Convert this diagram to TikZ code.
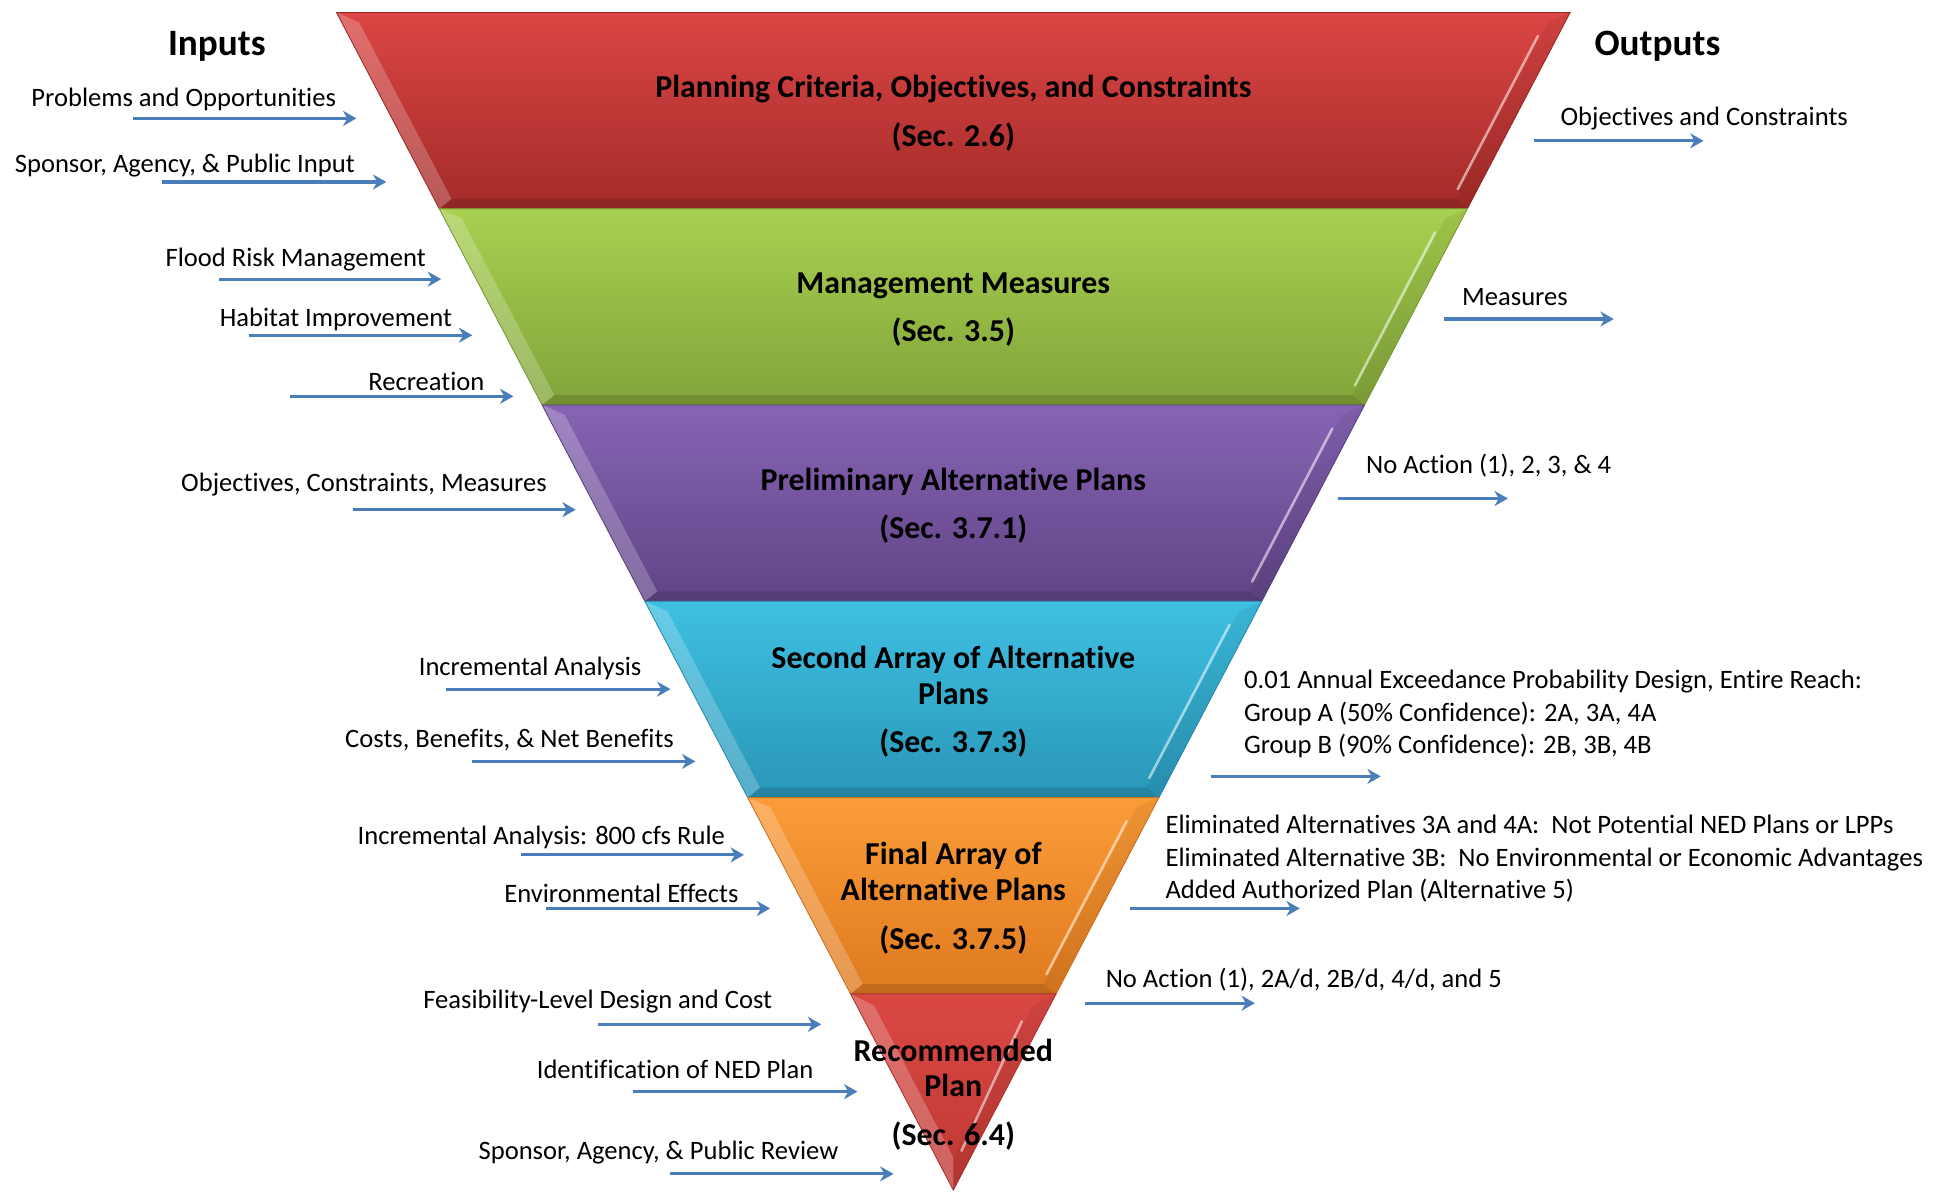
\documentclass[tikz,border=0pt]{standalone}
\usepackage{fontspec}
\setmainfont{Carlito}[Ligatures={NoCommon}]
\usetikzlibrary{calc,arrows.meta}

\tikzset{every picture/.style={line width=0.5pt}}
\tikzset{
  flowarrow/.style={draw={rgb, 255:red, 74; green, 126; blue, 187 }, line width=1.9pt, -{Stealth[length=8pt,width=9pt,inset=2.5pt]}},
  inlabel/.style={anchor=east, inner sep=0pt, yshift=-1.5pt, font=\fontsize{16}{19.5}\selectfont},
  outlabel/.style={anchor=west, inner sep=0pt, yshift=-1.5pt, align=left, font=\fontsize{16}{19.5}\selectfont},
  bandtitle/.style={inner sep=0pt, yshift=-1.5pt, align=center, font=\fontsize{19.2}{21.6}\selectfont\bfseries},
  heading/.style={inner sep=0pt, yshift=-1.5pt, font=\fontsize{22.4}{25}\selectfont\bfseries},
  lbevel/.style={fill=white, fill opacity=0.22},
  bbevel/.style={fill=black, fill opacity=0.13},
  rbevel/.style={fill=black, fill opacity=0.06},
  rshine/.style={draw=white, draw opacity=0.55, line width=1.5pt, line cap=round},
}

\begin{document}
\begin{tikzpicture}[x=0.75pt,y=0.75pt,yscale=-1,xscale=1]
    \useasboundingbox (0,0) rectangle (1568,957);

    % funnel corners
    \coordinate (f0l) at (270,10);      \coordinate (f0r) at (1260,10);
    \coordinate (f1l) at (352.5,167.5); \coordinate (f1r) at (1177.5,167.5);
    \coordinate (f2l) at (435,325);     \coordinate (f2r) at (1095,325);
    \coordinate (f3l) at (517.5,482.5); \coordinate (f3r) at (1012.5,482.5);
    \coordinate (f4l) at (600,640);     \coordinate (f4r) at (930,640);
    \coordinate (f5l) at (682.5,797.5); \coordinate (f5r) at (847.5,797.5);
    \coordinate (tip) at (765,955);

    %Shape: Band 1 (red)
    \shade [top color={rgb, 255:red, 219; green, 70; blue, 68 }, bottom color={rgb, 255:red, 163; green, 43; blue, 41 }] (f0l) -- (f0r) -- (f1r) -- (f1l) -- cycle;
    \fill [lbevel] (f0l) -- ($(f0l)!.05!(f1l)+(14,0)$) -- ($(f0l)!.95!(f1l)+(14,0)$) -- (f1l) -- cycle;
    \fill [bbevel] (f1l) -- ($(f0l)!.95!(f1l)+(14,0)$) -- ($(f0r)!.95!(f1r)+(-14,0)$) -- (f1r) -- cycle;
    \fill [rbevel] (f0r) -- ($(f0r)!.05!(f1r)+(-14,0)$) -- ($(f0r)!.95!(f1r)+(-14,0)$) -- (f1r) -- cycle;
    \draw [rshine] ($(f0r)!.12!(f1r)+(-16,0)$) -- ($(f0r)!.9!(f1r)+(-16,0)$);
    \draw [color={rgb, 255:red, 150; green, 40; blue, 38 }] (f0l) -- (f0r) -- (f1r) -- (f1l) -- cycle;

    %Shape: Band 2 (green)
    \shade [top color={rgb, 255:red, 168; green, 208; blue, 80 }, bottom color={rgb, 255:red, 130; green, 164; blue, 58 }] (f1l) -- (f1r) -- (f2r) -- (f2l) -- cycle;
    \fill [lbevel] (f1l) -- ($(f1l)!.05!(f2l)+(14,0)$) -- ($(f1l)!.95!(f2l)+(14,0)$) -- (f2l) -- cycle;
    \fill [bbevel] (f2l) -- ($(f1l)!.95!(f2l)+(14,0)$) -- ($(f1r)!.95!(f2r)+(-14,0)$) -- (f2r) -- cycle;
    \fill [rbevel] (f1r) -- ($(f1r)!.05!(f2r)+(-14,0)$) -- ($(f1r)!.95!(f2r)+(-14,0)$) -- (f2r) -- cycle;
    \draw [rshine] ($(f1r)!.12!(f2r)+(-16,0)$) -- ($(f1r)!.9!(f2r)+(-16,0)$);
    \draw [color={rgb, 255:red, 118; green, 150; blue, 52 }] (f1l) -- (f1r) -- (f2r) -- (f2l) -- cycle;

    %Shape: Band 3 (purple)
    \shade [top color={rgb, 255:red, 135; green, 100; blue, 180 }, bottom color={rgb, 255:red, 96; green, 68; blue, 134 }] (f2l) -- (f2r) -- (f3r) -- (f3l) -- cycle;
    \fill [lbevel] (f2l) -- ($(f2l)!.05!(f3l)+(14,0)$) -- ($(f2l)!.95!(f3l)+(14,0)$) -- (f3l) -- cycle;
    \fill [bbevel] (f3l) -- ($(f2l)!.95!(f3l)+(14,0)$) -- ($(f2r)!.95!(f3r)+(-14,0)$) -- (f3r) -- cycle;
    \fill [rbevel] (f2r) -- ($(f2r)!.05!(f3r)+(-14,0)$) -- ($(f2r)!.95!(f3r)+(-14,0)$) -- (f3r) -- cycle;
    \draw [rshine] ($(f2r)!.12!(f3r)+(-16,0)$) -- ($(f2r)!.9!(f3r)+(-16,0)$);
    \draw [color={rgb, 255:red, 88; green, 62; blue, 122 }] (f2l) -- (f2r) -- (f3r) -- (f3l) -- cycle;

    %Shape: Band 4 (blue)
    \shade [top color={rgb, 255:red, 62; green, 192; blue, 226 }, bottom color={rgb, 255:red, 42; green, 150; blue, 184 }] (f3l) -- (f3r) -- (f4r) -- (f4l) -- cycle;
    \fill [lbevel] (f3l) -- ($(f3l)!.05!(f4l)+(14,0)$) -- ($(f3l)!.95!(f4l)+(14,0)$) -- (f4l) -- cycle;
    \fill [bbevel] (f4l) -- ($(f3l)!.95!(f4l)+(14,0)$) -- ($(f3r)!.95!(f4r)+(-14,0)$) -- (f4r) -- cycle;
    \fill [rbevel] (f3r) -- ($(f3r)!.05!(f4r)+(-14,0)$) -- ($(f3r)!.95!(f4r)+(-14,0)$) -- (f4r) -- cycle;
    \draw [rshine] ($(f3r)!.12!(f4r)+(-16,0)$) -- ($(f3r)!.9!(f4r)+(-16,0)$);
    \draw [color={rgb, 255:red, 38; green, 136; blue, 168 }] (f3l) -- (f3r) -- (f4r) -- (f4l) -- cycle;

    %Shape: Band 5 (orange)
    \shade [top color={rgb, 255:red, 252; green, 156; blue, 56 }, bottom color={rgb, 255:red, 222; green, 122; blue, 32 }] (f4l) -- (f4r) -- (f5r) -- (f5l) -- cycle;
    \fill [lbevel] (f4l) -- ($(f4l)!.05!(f5l)+(14,0)$) -- ($(f4l)!.95!(f5l)+(14,0)$) -- (f5l) -- cycle;
    \fill [bbevel] (f5l) -- ($(f4l)!.95!(f5l)+(14,0)$) -- ($(f4r)!.95!(f5r)+(-14,0)$) -- (f5r) -- cycle;
    \fill [rbevel] (f4r) -- ($(f4r)!.05!(f5r)+(-14,0)$) -- ($(f4r)!.95!(f5r)+(-14,0)$) -- (f5r) -- cycle;
    \draw [rshine] ($(f4r)!.12!(f5r)+(-16,0)$) -- ($(f4r)!.9!(f5r)+(-16,0)$);
    \draw [color={rgb, 255:red, 200; green, 110; blue, 30 }] (f4l) -- (f4r) -- (f5r) -- (f5l) -- cycle;

    %Shape: Band 6 (red tip)
    \shade [top color={rgb, 255:red, 218; green, 72; blue, 68 }, bottom color={rgb, 255:red, 190; green, 56; blue, 52 }] (f5l) -- (f5r) -- (tip) -- cycle;
    \fill [lbevel] (f5l) -- ($(f5l)!.06!(tip)+(14,0)$) -- ($(tip)+(0,-26)$) -- (tip) -- cycle;
    \fill [rbevel] (f5r) -- ($(f5r)!.06!(tip)+(-14,0)$) -- ($(tip)+(0,-26)$) -- (tip) -- cycle;
    \draw [rshine] ($(f5r)!.14!(tip)+(-16,0)$) -- ($(f5r)!.8!(tip)+(-10,0)$);
    \draw [color={rgb, 255:red, 170; green, 48; blue, 45 }] (f5l) -- (f5r) -- (tip) -- cycle;

    % Band titles
    \draw (765,88.75) node [bandtitle] (b1) {Planning Criteria, Objectives, and Constraints\\[7.6pt](Sec. 2.6)};
    \draw (765,246.25) node [bandtitle] (b2) {Management Measures\\[7.6pt](Sec. 3.5)};
    \draw (765,403.75) node [bandtitle] (b3) {Preliminary Alternative Plans\\[7.6pt](Sec. 3.7.1)};
    \draw (765,561.25) node [bandtitle] (b4) {Second Array of Alternative\\Plans\\[7.6pt](Sec. 3.7.3)};
    \draw (765,718.75) node [bandtitle] (b5) {Final Array of\\Alternative Plans\\[7.6pt](Sec. 3.7.5)};
    \draw (765,876.25) node [bandtitle] (b6) {Recommended\\Plan\\[7.6pt](Sec. 6.4)};

    % Headings
    \draw (174,35) node [heading] (inhead) {Inputs};
    \draw (1330,35) node [heading] (outhead) {Outputs};

    % Inputs
    \coordinate (in1s) at (107,95);  \coordinate (in1e) at (286,95);
    \draw [flowarrow] (in1s) -- (in1e);
    \draw (270,78) node [inlabel] (in1) {Problems and Opportunities};

    \coordinate (in2s) at (130,146); \coordinate (in2e) at (310,146);
    \draw [flowarrow] (in2s) -- (in2e);
    \draw (285,131) node [inlabel] (in2) {Sponsor, Agency, \& Public Input};

    \coordinate (in3s) at (176,224); \coordinate (in3e) at (354,224);
    \draw [flowarrow] (in3s) -- (in3e);
    \draw (342,206) node [inlabel] (in3) {Flood Risk Management};

    \coordinate (in4s) at (200,269); \coordinate (in4e) at (379,269);
    \draw [flowarrow] (in4s) -- (in4e);
    \draw (363,254) node [inlabel] (in4) {Habitat Improvement};

    \coordinate (in5s) at (233,318); \coordinate (in5e) at (412,318);
    \draw [flowarrow] (in5s) -- (in5e);
    \draw (389,304) node [inlabel] (in5) {Recreation};

    \coordinate (in6s) at (283,409); \coordinate (in6e) at (462,409);
    \draw [flowarrow] (in6s) -- (in6e);
    \draw (439,387) node [inlabel] (in6) {Objectives, Constraints, Measures};

    \coordinate (in7s) at (358,553); \coordinate (in7e) at (538,553);
    \draw [flowarrow] (in7s) -- (in7e);
    \draw (515,534) node [inlabel] (in7) {Incremental Analysis};

    \coordinate (in8s) at (379,611); \coordinate (in8e) at (558,611);
    \draw [flowarrow] (in8s) -- (in8e);
    \draw (541,592) node [inlabel] (in8) {Costs, Benefits, \& Net Benefits};

    \coordinate (in9s) at (418,686); \coordinate (in9e) at (597,686);
    \draw [flowarrow] (in9s) -- (in9e);
    \draw (582,670) node [inlabel] (in9) {Incremental Analysis: 800 cfs Rule};

    \coordinate (in10s) at (438,729); \coordinate (in10e) at (618,729);
    \draw [flowarrow] (in10s) -- (in10e);
    \draw (593,715) node [inlabel] (in10) {Environmental Effects};

    \coordinate (in11s) at (480,822); \coordinate (in11e) at (659,822);
    \draw [flowarrow] (in11s) -- (in11e);
    \draw (620,802) node [inlabel] (in11) {Feasibility-Level Design and Cost};

    \coordinate (in12s) at (508,876); \coordinate (in12e) at (688,876);
    \draw [flowarrow] (in12s) -- (in12e);
    \draw (653,856) node [inlabel] (in12) {Identification of NED Plan};

    \coordinate (in13s) at (538,942); \coordinate (in13e) at (717,942);
    \draw [flowarrow] (in13s) -- (in13e);
    \draw (673,923) node [inlabel] (in13) {Sponsor, Agency, \& Public Review};

    % Outputs
    \coordinate (out1s) at (1231,113); \coordinate (out1e) at (1367,113);
    \draw [flowarrow] (out1s) -- (out1e);
    \draw (1252,93) node [outlabel] (out1) {Objectives and Constraints};

    \coordinate (out2s) at (1159,256); \coordinate (out2e) at (1295,256);
    \draw [flowarrow] (out2s) -- (out2e);
    \draw (1173,236) node [outlabel] (out2) {Measures};

    \coordinate (out3s) at (1074,400); \coordinate (out3e) at (1210,400);
    \draw [flowarrow] (out3s) -- (out3e);
    \draw (1096,372) node [outlabel] (out3) {No Action (1), 2, 3, \& 4};

    \coordinate (out4s) at (972,623); \coordinate (out4e) at (1108,623);
    \draw [flowarrow] (out4s) -- (out4e);
    \draw (998,571) node [outlabel] (out4) {0.01 Annual Exceedance Probability Design, Entire Reach:\\Group A (50\% Confidence): 2A, 3A, 4A\\Group B (90\% Confidence): 2B, 3B, 4B};

    \coordinate (out5s) at (907,729); \coordinate (out5e) at (1043,729);
    \draw [flowarrow] (out5s) -- (out5e);
    \draw (935,687) node [outlabel] (out5) {Eliminated Alternatives 3A and 4A:\ \ Not Potential NED Plans or LPPs\\Eliminated Alternative 3B:\ \ No Environmental or Economic Advantages\\Added Authorized Plan (Alternative 5)};

    \coordinate (out6s) at (871,805); \coordinate (out6e) at (1007,805);
    \draw [flowarrow] (out6s) -- (out6e);
    \draw (887,784) node [outlabel] (out6) {No Action (1), 2A/d, 2B/d, 4/d, and 5};
\end{tikzpicture}
\end{document}
